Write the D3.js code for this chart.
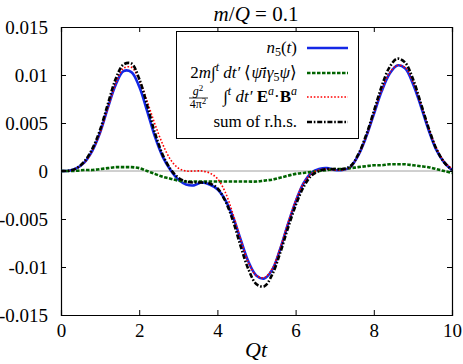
<!DOCTYPE html>
<html><head><meta charset="utf-8">
<script src="https://cdn.jsdelivr.net/npm/d3@7"></script>
<style>
html,body{margin:0;padding:0;background:#fff;}
svg{display:block;}
svg text{font-family:"Liberation Serif",serif;fill:#000;}
</style></head>
<body>
<svg id="chart" width="463" height="364"></svg>
<script>
const tValues = [0,0.2,0.4,0.6,0.8,1.0,1.2,1.4,1.6,1.8,2.0,2.2,2.4,2.6,2.8,3.0,3.2,3.4,3.6,3.8,4.0,4.2,4.4,4.6,4.8,5.0,5.2,5.4,5.6,5.8,6.0,6.2,6.4,6.6,6.8,7.0,7.2,7.4,7.6,7.8,8.0,8.2,8.4,8.6,8.8,9.0,9.2,9.4,9.6,9.8,10.0];
const n5 = [0,0.00003,0.0003,0.0009,0.0021,0.0040,0.0066,0.0090,0.0104,0.0103,0.0088,0.0063,0.0036,0.0015,0.0001,-0.0009,-0.0014,-0.0015,-0.0012,-0.0014,-0.0019,-0.0030,-0.0048,-0.0072,-0.0095,-0.0109,-0.0112,-0.0103,-0.0082,-0.0056,-0.0032,-0.0013,-0.0002,0.0002,0.0003,0.0001,0.0001,0.0004,0.0016,0.0035,0.0059,0.0083,0.0101,0.0110,0.0107,0.0091,0.0068,0.0043,0.0022,0.0009,0.0001];
const massTerm = [0,0,0.00003,0.0001,0.0001,0.0002,0.0003,0.0004,0.0004,0.0004,0.0003,0.0000,-0.0003,-0.0006,-0.0008,-0.0010,-0.0011,-0.0011,-0.0011,-0.0011,-0.0011,-0.0011,-0.0011,-0.0011,-0.0011,-0.0011,-0.0010,-0.0009,-0.0007,-0.0005,-0.0003,-0.0002,-0.0001,0.0000,0.0001,0.0002,0.0002,0.0003,0.0004,0.0005,0.0006,0.0006,0.0007,0.0007,0.0007,0.0006,0.0005,0.0004,0.0002,0.0000,-0.0002];
const anomalyTerm = [0,0.00003,0.0003,0.0009,0.0021,0.0040,0.0066,0.0091,0.0107,0.0108,0.0095,0.0073,0.0049,0.0028,0.0012,0.0003,0.0000,0.0000,0.0000,-0.0002,-0.0008,-0.0022,-0.0045,-0.0072,-0.0096,-0.0109,-0.0111,-0.0102,-0.0081,-0.0055,-0.0031,-0.0013,-0.0003,0.0001,0.0002,0.0001,0.0001,0.0004,0.0016,0.0035,0.0060,0.0084,0.0102,0.0110,0.0108,0.0093,0.0070,0.0045,0.0024,0.0010,0.0002];
const sumRhs = [0,0.00003,0.0003,0.0010,0.0023,0.0043,0.0070,0.0096,0.0111,0.0112,0.0096,0.0069,0.0040,0.0017,0.0002,-0.0007,-0.0011,-0.0012,-0.0012,-0.0013,-0.0018,-0.0031,-0.0052,-0.0079,-0.0103,-0.0118,-0.0120,-0.0108,-0.0086,-0.0060,-0.0036,-0.0017,-0.0005,0.0000,0.0002,0.0002,0.0002,0.0005,0.0017,0.0037,0.0062,0.0088,0.0108,0.0117,0.0113,0.0096,0.0071,0.0045,0.0023,0.0009,0.0001];
const xTicks = [0,2,4,6,8,10];
const yTicks = [-0.015,-0.01,-0.005,0,0.005,0.01,0.015];
const yTickLabels = ["-0.015","-0.01","-0.005","0","0.005","0.01","0.015"];

const FONT = '"Liberation Serif",serif';
const svg = d3.select("#chart");
const L = 61, R = 452, T = 27, B = 315;
const x = d3.scaleLinear().domain([0,10]).range([L,R]);
const y = d3.scaleLinear().domain([-0.015,0.015]).range([B,T]);

// zero line
svg.append("line").attr("x1",x(0)).attr("x2",x(10)).attr("y1",y(0)).attr("y2",y(0))
  .attr("stroke","#a0a0a0").attr("stroke-width",1);

// axes with inward ticks
const tl = 5;
const axB = svg.append("g").attr("transform",`translate(0,${B})`)
  .call(d3.axisBottom(x).tickValues(xTicks).tickSize(-tl).tickPadding(tl+6).tickFormat(d3.format("d")));
const axT = svg.append("g").attr("transform",`translate(0,${T})`)
  .call(d3.axisTop(x).tickValues(xTicks).tickSize(-tl).tickFormat(""));
const axL = svg.append("g").attr("transform",`translate(${L},0)`)
  .call(d3.axisLeft(y).tickValues(yTicks).tickSize(-tl).tickPadding(tl+8).tickFormat((d,i)=>yTickLabels[i]));
const axR = svg.append("g").attr("transform",`translate(${R},0)`)
  .call(d3.axisRight(y).tickValues(yTicks).tickSize(-tl).tickFormat(""));
[axB,axT,axL,axR].forEach(a=>{
  a.attr("font-family",FONT).attr("font-size",19);
  a.select(".domain").attr("stroke","#000").attr("stroke-width",1.2);
  a.selectAll(".tick line").attr("stroke","#000");
  a.selectAll("text").attr("font-family",FONT).attr("font-size",19).attr("fill","#000");
});
axB.selectAll("text").attr("dy","0.6em");

const line = d3.line().x((d,i)=>x(tValues[i])).y(d=>y(d)).curve(d3.curveCatmullRom.alpha(0.5));
const series = [
  {data:n5, color:"#1428e6", w:2.6, dash:null},
  {data:massTerm, color:"#006400", w:2.6, dash:"3.5,1.5"},
  {data:anomalyTerm, color:"#ff0000", w:1.6, dash:"1.6,1.8"},
  {data:sumRhs, color:"#000000", w:2.6, dash:"5,1.8,1.6,1.8"}
];
series.forEach(s=>{
  svg.append("path").attr("d",line(s.data)).attr("fill","none")
    .attr("stroke",s.color).attr("stroke-width",s.w)
    .attr("stroke-dasharray",s.dash);
});

// legend
const lg = svg.append("g").attr("font-family",FONT);
lg.append("rect").attr("x",176.5).attr("y",31.5).attr("width",182).attr("height",107)
  .attr("fill","#fff").attr("stroke","#000").attr("stroke-width",1);
const rowsY = [48,73,97,122];
series.forEach((s,i)=>{
  lg.append("line").attr("x1",307).attr("x2",348).attr("y1",rowsY[i]).attr("y2",rowsY[i])
    .attr("stroke",s.color).attr("stroke-width",s.w).attr("stroke-dasharray",s.dash);
});
const tx = 297;
const LF = "17px", SF = "12px";
// row 1
let t1 = lg.append("text").attr("x",tx).attr("y",rowsY[0]+5).attr("text-anchor","end").style("font-size",LF);
t1.append("tspan").style("font-style","italic").text("n");
t1.append("tspan").attr("dy",3).style("font-size",SF).text("5");
t1.append("tspan").attr("dy",-3).text("(");
t1.append("tspan").style("font-style","italic").text("t");
t1.append("tspan").text(")");
// row 2
let t2 = lg.append("text").attr("x",tx).attr("y",rowsY[1]+5).attr("text-anchor","end").style("font-size",LF);
t2.append("tspan").text("2");
t2.append("tspan").style("font-style","italic").text("m");
t2.append("tspan").text("\u222B");
t2.append("tspan").attr("dy",-7).style("font-size",SF).style("font-style","italic").text("t");
t2.append("tspan").attr("dy",7).style("font-style","italic").text(" dt\u2032 ");
t2.append("tspan").text("\u27E8");
t2.append("tspan").style("font-style","italic").text("\u03C8\u0304i\u03B3");
t2.append("tspan").attr("dy",3).style("font-size",SF).text("5");
t2.append("tspan").attr("dy",-3).style("font-style","italic").text("\u03C8");
t2.append("tspan").text("\u27E9");
// row 3
let t3 = lg.append("text").attr("x",tx).attr("y",rowsY[2]+5).attr("text-anchor","end").style("font-size",LF);
t3.append("tspan").text("\u222B");
t3.append("tspan").attr("dy",-7).style("font-size",SF).style("font-style","italic").text("t");
t3.append("tspan").attr("dy",7).style("font-style","italic").text(" dt\u2032 ");
t3.append("tspan").style("font-weight","bold").text("E");
t3.append("tspan").attr("dy",-7).style("font-size",SF).style("font-style","italic").text("a");
t3.append("tspan").attr("dy",7).text("\u00B7");
t3.append("tspan").style("font-weight","bold").text("B");
t3.append("tspan").attr("dy",-7).style("font-size",SF).style("font-style","italic").text("a");
// fraction
const fx = 198;
let fn = lg.append("text").attr("x",fx).attr("y",rowsY[2]-2).attr("text-anchor","middle").style("font-size","12px");
fn.append("tspan").style("font-style","italic").text("g");
fn.append("tspan").attr("dy",-4).style("font-size","9px").text("2");
lg.append("line").attr("x1",189).attr("x2",208).attr("y1",rowsY[2]+1).attr("y2",rowsY[2]+1).attr("stroke","#000").attr("stroke-width",0.8);
let fd = lg.append("text").attr("x",fx).attr("y",rowsY[2]+11).attr("text-anchor","middle").style("font-size","12px");
fd.append("tspan").text("4\u03C0");
fd.append("tspan").attr("dy",-4).style("font-size","9px").text("2");
// row 4
lg.append("text").attr("x",tx).attr("y",rowsY[3]+5).attr("text-anchor","end").style("font-size",LF).text("sum of r.h.s.");

// title
let tt = svg.append("text").attr("x",256).attr("y",21).attr("text-anchor","middle").style("font-size","21px");
tt.append("tspan").style("font-style","italic").text("m");
tt.append("tspan").text("/");
tt.append("tspan").style("font-style","italic").text("Q");
tt.append("tspan").text(" = 0.1");
// x label
let xl = svg.append("text").attr("x",256).attr("y",357).attr("text-anchor","middle").style("font-size","22px");
xl.append("tspan").style("font-style","italic").text("Qt");
</script>
</body></html>
